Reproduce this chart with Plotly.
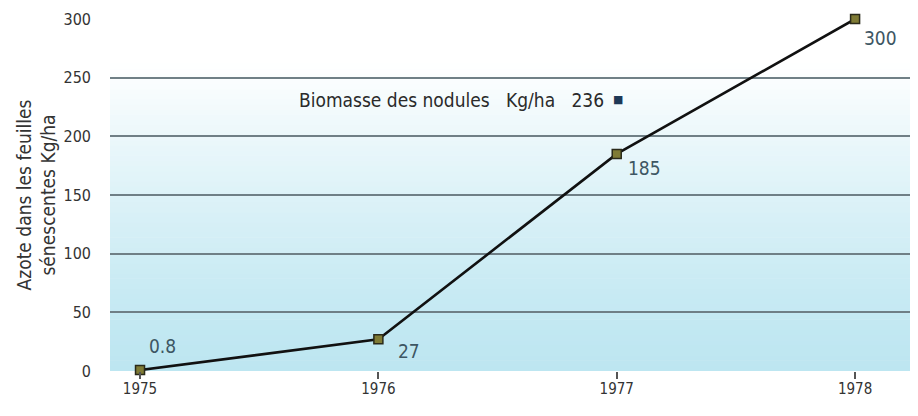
import plotly.graph_objects as go

years = [1975, 1976, 1977, 1978]
azote = [0.8, 27, 185, 300]
labels = ["0.8", "27", "185", "300"]
biomasse_label = "Biomasse des nodules\u00a0\u00a0 Kg/ha"
biomasse_value = 236
y_ticks = [0, 50, 100, 150, 200, 250, 300]

FONT = "Liberation Sans Narrow, DejaVu Sans Condensed, Arial Narrow, sans-serif"
X0, X1 = 1974.874, 1978.264

fig = go.Figure()

# background gradient drawn as thin bands below the gridlines
def mix(c1, c2, t):
    return "rgb(%d,%d,%d)" % tuple(round(a + (b - a) * t) for a, b in zip(c1, c2))

bottom = (189, 230, 241)
top = (255, 255, 255)
n = 60
g_top = 262.0
for i in range(n):
    y0 = g_top * i / n
    y1 = g_top * (i + 1) / n + 0.5
    t = (i + 0.5) / n
    fig.add_shape(type="rect", xref="x", yref="y", x0=X0, x1=X1, y0=y0, y1=y1,
                  fillcolor=mix(bottom, top, t ** 1.3), line=dict(width=0),
                  layer="below")

fig.add_trace(go.Scatter(
    x=years, y=azote, mode="lines+markers", showlegend=False,
    line=dict(color="#111111", width=2.6),
    marker=dict(symbol="square", size=9, color="#7f7b35",
                line=dict(color="#2a2a1a", width=1.5)),
    cliponaxis=False,
))

shifts = [(22, 24), (31, -12), (28, -14), (25, -19)]
for x, y, t, (dx, dy) in zip(years, azote, labels, shifts):
    fig.add_annotation(x=x, y=y, text=t, showarrow=False, xshift=dx, yshift=dy,
                       font=dict(family=FONT, size=19, color="#3d5663"))

fig.add_annotation(
    x=1976.953, y=231, xanchor="right", showarrow=False,
    text=f"{biomasse_label}\u00a0\u00a0 {biomasse_value}",
    font=dict(family=FONT, size=19, color="#2a2a2a"))
fig.add_annotation(
    x=1976.975, y=231, xanchor="left", showarrow=False, text="■",
    font=dict(family="DejaVu Sans", size=11, color="#1e3856"))

# the page body adds an 8px offset, so margins are compensated
fig.update_layout(
    width=918, height=416,
    margin=dict(l=102, r=8, t=11, b=53, autoexpand=False),
    paper_bgcolor="white", plot_bgcolor="white", showlegend=False,
    font=dict(family=FONT, color="#333333"),
    xaxis=dict(range=[X0, X1], tickvals=years, ticktext=[str(y) for y in years],
               showgrid=False, zeroline=False, showline=False, automargin=False,
               ticks="outside", ticklen=7, tickwidth=2, tickcolor="#555555",
               ticklabelstandoff=-3,
               tickfont=dict(family=FONT, size=15, color="#333333")),
    yaxis=dict(range=[0, 300], tickvals=y_ticks, showgrid=True, gridcolor="#6f7f86",
               gridwidth=2, zeroline=False, showline=False, ticks="", automargin=False,
               ticklabelstandoff=18,
               tickfont=dict(family=FONT, size=16, color="#333333"),
               title=dict(text="Azote dans les feuilles<br>sénescentes Kg/ha",
                          font=dict(family=FONT, size=19, color="#333333"),
                          standoff=2)),
)

fig.write_html("out.html")
